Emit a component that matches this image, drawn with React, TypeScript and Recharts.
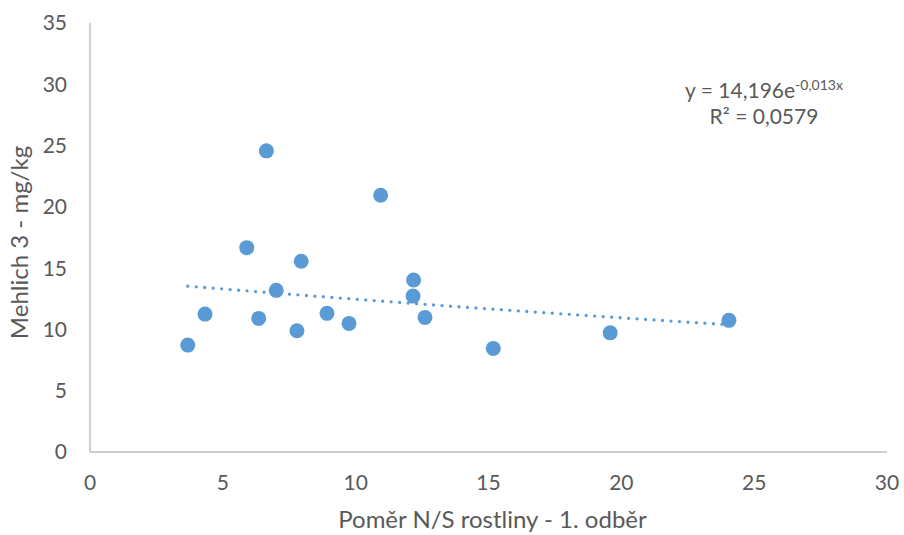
import React from 'react';
import { ScatterChart, Scatter, XAxis, YAxis, Label } from 'recharts';

// N/S ratio in plants (1st sampling) vs. Mehlich 3 soil content
const nsRatio = [3.68, 4.33, 5.9, 6.35, 6.64, 7.01, 7.79, 7.95, 8.92, 9.75, 10.94, 12.18, 12.16, 12.61, 15.18, 19.58, 24.05];
const mehlich = [8.72, 11.25, 16.67, 10.9, 24.57, 13.19, 9.89, 15.56, 11.31, 10.49, 20.95, 14.03, 12.72, 10.98, 8.45, 9.72, 10.74];

const xTicks = [0, 5, 10, 15, 20, 25, 30];
const yTicks = [0, 5, 10, 15, 20, 25, 30, 35];

// exponential trendline y = a * e^(b x), R^2 from the fit
const trendA = 14.196;
const trendB = -0.013;
const trendR2 = '0,0579';

const points = nsRatio.map((x, i) => ({ x, y: mehlich[i] }));

const xMin = Math.min(...nsRatio);
const xMax = Math.max(...nsRatio);
const trend = Array.from({ length: 21 }, (_, i) => {
  const x = xMin + ((xMax - xMin) * i) / 20;
  return { x, y: trendA * Math.exp(trendB * x) };
});

const BLUE = '#5B9BD5';
const AXIS = '#BFBFBF';
const TEXT = '#595959';
const FONT = 'Lato, "Open Sans", sans-serif';

const tickStyle = { fontSize: 21, fill: TEXT, fontFamily: FONT };
const titleStyle = { fontSize: 24, fill: TEXT, fontFamily: FONT };

const XTitle = (props: any) => {
  const vb = props.viewBox;
  return (
    <text x={vb.x + vb.width / 2 + 4} y={vb.y + vb.height - 7} textAnchor="middle" style={titleStyle}>
      Poměr N/S rostliny - 1. odběr
    </text>
  );
};

const YTitle = (props: any) => {
  const vb = props.viewBox;
  const cx = vb.x + 28;
  const cy = vb.y + vb.height / 2 + 5;
  return (
    <text x={cx} y={cy} textAnchor="middle" transform={`rotate(-90 ${cx} ${cy})`} style={titleStyle}>
      Mehlich 3 - mg/kg
    </text>
  );
};

const App = () => {
  return (
    <div style={{ position: 'absolute', left: 0, top: 0, width: 904, height: 535, fontFamily: FONT }}>
      <ScatterChart width={904} height={535} margin={{ top: 23, right: 17, bottom: 0, left: 0 }}>
        <XAxis
          type="number"
          dataKey="x"
          domain={[0, 30]}
          ticks={xTicks}
          height={83}
          stroke={AXIS}
          strokeWidth={1.5}
          tickLine={false}
          tickSize={0}
          tickMargin={23}
          tick={tickStyle}
        >
          <Label content={XTitle} />
        </XAxis>
        <YAxis
          type="number"
          dataKey="y"
          domain={[0, 35]}
          ticks={yTicks}
          width={90}
          stroke={AXIS}
          strokeWidth={1.5}
          tickLine={false}
          tickSize={0}
          tickMargin={23}
          tick={tickStyle}
        >
          <Label content={YTitle} />
        </YAxis>
        <Scatter
          data={trend}
          line={{ stroke: BLUE, strokeWidth: 3.3, strokeDasharray: '0 8.5', strokeLinecap: 'round' }}
          lineType="joint"
          shape={() => <g />}
          isAnimationActive={false}
        />
        <Scatter
          data={points}
          fill={BLUE}
          shape={(props: any) => <circle cx={props.cx} cy={props.cy} r={7.5} fill={BLUE} />}
          isAnimationActive={false}
        />
      </ScatterChart>
      <div
        style={{
          position: 'absolute',
          left: 664,
          top: 77,
          width: 200,
          textAlign: 'center',
          fontSize: 21,
          lineHeight: '26px',
          color: TEXT,
        }}
      >
        <div>
          y = 14,196e
          <span style={{ fontSize: 14, lineHeight: 0, position: 'relative', top: -8 }}>-0,013x</span>
        </div>
        <div>R² = {trendR2}</div>
      </div>
    </div>
  );
};

export default App;
